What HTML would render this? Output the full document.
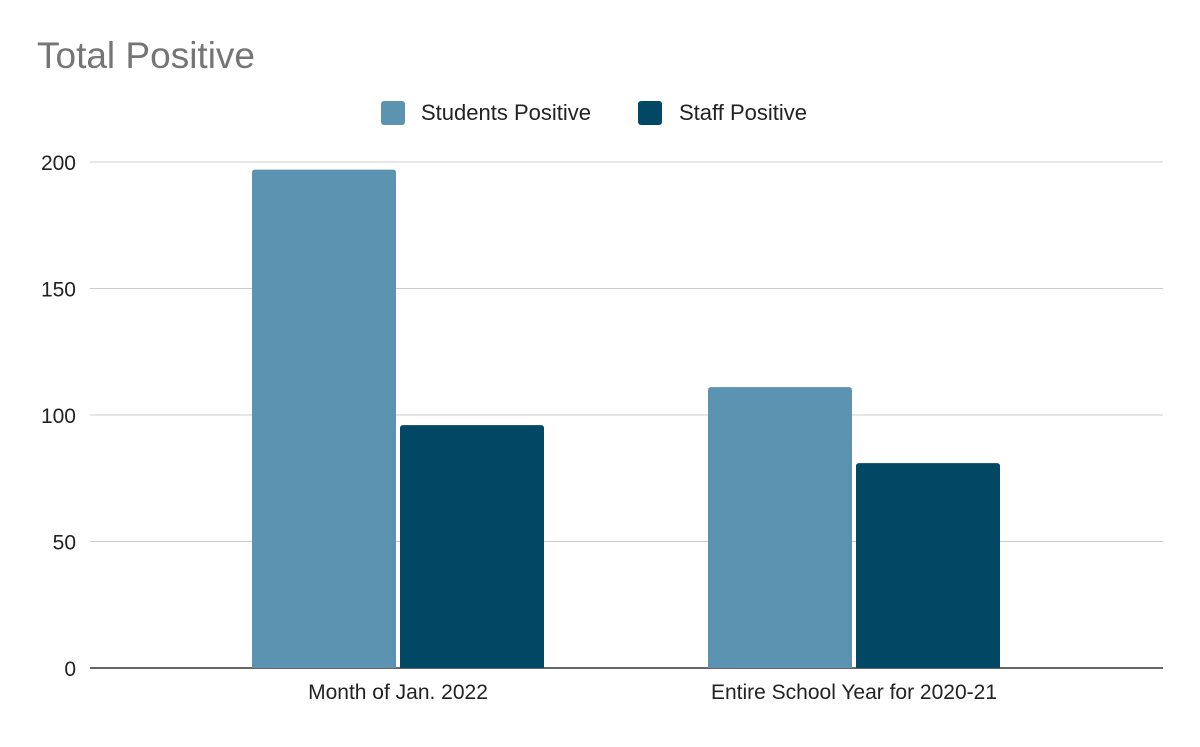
<!DOCTYPE html>
<html><head><meta charset="utf-8"><style>
body{margin:0;background:#fff;font-family:"Liberation Sans",Arial,sans-serif}
</style></head><body>
<svg id="chart" width="1200" height="742" xmlns="http://www.w3.org/2000/svg">
<rect width="1200" height="742" fill="#fff"/>
<text x="37" y="68" font-size="37" fill="#757575" font-family="Liberation Sans, sans-serif">Total Positive</text>
<g>
<g><rect x="381" y="101" width="24" height="24" rx="3" fill="#5b93b0"/><text x="421" y="120" font-size="22" fill="#222">Students Positive</text></g>
<g><rect x="638" y="101" width="24" height="24" rx="3" fill="#024763"/><text x="679" y="120" font-size="22" fill="#222">Staff Positive</text></g>
</g>
<g id="grid"></g><g id="bars"></g><g id="xlabels"></g>
</svg>
<script>
const categories=["Month of Jan. 2022","Entire School Year for 2020-21"];
const studentsPositive=[197,96+15-15,111].slice(0,1).concat([111]);
const staffPositive=[96,81];
const yTicks=[0,50,100,150,200];
const seriesColors=["#5b93b0","#024763"];
const svg="http://www.w3.org/2000/svg";
const y0=668,yTop=162,yMax=200;
const y=v=>y0-(v/yMax)*(y0-yTop);
const bandStart=170,band=456,barW=144,gap=4;
const grid=document.getElementById('grid'),bars=document.getElementById('bars'),xl=document.getElementById('xlabels');
function mk(t,a,p){const e=document.createElementNS(svg,t);for(const k in a)e.setAttribute(k,a[k]);p.appendChild(e);return e;}
yTicks.forEach(t=>{
 const l=mk('line',{x1:90,x2:1163,y1:y(t),y2:y(t),stroke:t===0?'#333':'#ccc','stroke-width':t===0?1.5:1},grid);
 
 
 const tx=mk('text',{x:76,y:y(t)+8,'font-size':21,fill:'#222','text-anchor':'end'},grid);
 tx.textContent=t;
 
 
});
const series=[studentsPositive,staffPositive];
categories.forEach((c,i)=>{
 const cx=bandStart+band*i+band/2;
 series.forEach((s,j)=>{
  const x=j===0?cx-gap/2-barW:cx+gap/2;
  const r=mk('path',{d:`M${x},${y0}V${y(s[i])+3}q0,-3 3,-3h${barW-6}q3,0 3,3V${y0}Z`,fill:seriesColors[j]},bars);
  
  
 });
 const t=mk('text',{x:cx,y:699,'font-size':21,fill:'#222','text-anchor':'middle'},xl);
 t.textContent=c;
 
 
});
</script>
</body></html>
